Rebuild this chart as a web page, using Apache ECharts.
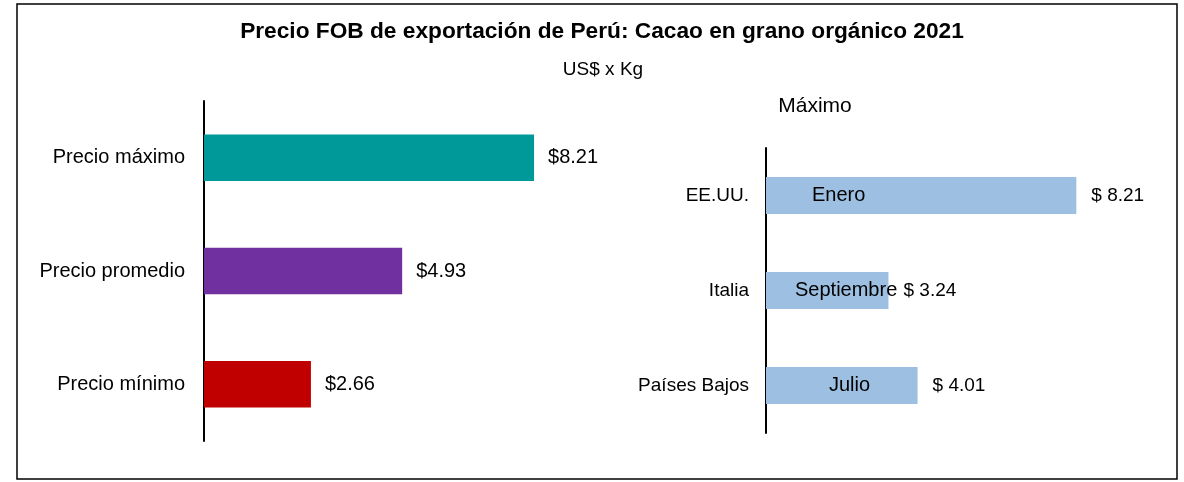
<!DOCTYPE html>
<html>
<head>
<meta charset="utf-8">
<script src="https://cdn.jsdelivr.net/npm/echarts@6/dist/echarts.min.js"></script>
<style>
  html, body { margin: 0; padding: 0; background: #fff; }
  #chart { width: 1184px; height: 482px; }
</style>
</head>
<body>
<div id="chart"></div>
<script>
// datos
var priceCategories = ['Precio máximo', 'Precio promedio', 'Precio mínimo'];
var priceValues = [8.21, 4.93, 2.66];
var priceColors = ['#009999', '#7030A0', '#C00000'];

var countryCategories = ['EE.UU.', 'Italia', 'Países Bajos'];
var countryValues = [8.21, 3.24, 4.01];
var countryMonths = ['Enero', 'Septiembre', 'Julio'];

var fontName = 'Liberation Sans';

// posicion del mes dentro de la barra (px desde el eje)
var monthOffsets = [46, 29, 63];

var chart = echarts.init(document.getElementById('chart'));

var option = {
    backgroundColor: '#fff',
    animation: false,
    textStyle: { fontFamily: fontName },
    title: [
        {
            text: 'Precio FOB de exportación de Perú: Cacao en grano orgánico 2021',
            left: 597, top: 15, textAlign: 'center',
            textStyle: { fontSize: 22.7, fontWeight: 'bold', color: '#000', fontFamily: fontName }
        },
        {
            text: 'US$ x Kg',
            left: 598, top: 55, textAlign: 'center',
            textStyle: { fontSize: 19, fontWeight: 'normal', color: '#000', fontFamily: fontName }
        },
        {
            text: 'Máximo',
            left: 810, top: 91, textAlign: 'center',
            textStyle: { fontSize: 21, fontWeight: 'normal', color: '#000', fontFamily: fontName }
        }
    ],
    graphic: [{
        type: 'rect',
        shape: { x: 17, y: 4, width: 1160, height: 475 },
        style: { fill: 'none', stroke: '#000', lineWidth: 1.5 }
    }],
    grid: [
        { left: 204, top: 101, width: 402, height: 340 },
        { left: 766, top: 148, width: 378, height: 285 }
    ],
    xAxis: [
        { gridIndex: 0, type: 'value', min: 0, max: 10, show: false },
        { gridIndex: 1, type: 'value', min: 0, max: 10, show: false }
    ],
    yAxis: [
        {
            gridIndex: 0, type: 'category', data: priceCategories, inverse: true,
            axisLine: { lineStyle: { color: '#000', width: 2 } },
            axisTick: { show: false },
            axisLabel: { color: '#000', fontSize: 20, margin: 19 }
        },
        {
            gridIndex: 1, type: 'category', data: countryCategories, inverse: true,
            axisLine: { lineStyle: { color: '#000', width: 2 } },
            axisTick: { show: false },
            axisLabel: { color: '#000', fontSize: 19, margin: 17 }
        }
    ],
    series: [
        {
            type: 'bar', xAxisIndex: 0, yAxisIndex: 0,
            barWidth: '41%',
            data: priceValues.map(function (v, i) {
                return { value: v, itemStyle: { color: priceColors[i] } };
            }),
            label: {
                show: true, position: 'right', distance: 14,
                color: '#000', fontSize: 20,
                formatter: function (p) { return '$' + p.value.toFixed(2); }
            }
        },
        {
            type: 'bar', xAxisIndex: 1, yAxisIndex: 1,
            barWidth: '39%',
            itemStyle: { color: '#9DC0E2' },
            data: countryValues,
            label: {
                show: true, position: 'right', distance: 15,
                color: '#000', fontSize: 19,
                formatter: function (p) { return '$ ' + p.value.toFixed(2); }
            }
        },
        {
            // capa para el nombre del mes dentro de la barra
            type: 'bar', xAxisIndex: 1, yAxisIndex: 1,
            barWidth: '39%', barGap: '-100%',
            itemStyle: { color: 'rgba(0,0,0,0)' },
            silent: true,
            data: countryValues.map(function (v, i) {
                return {
                    value: v,
                    label: {
                        show: true,
                        position: [monthOffsets[i], '50%'],
                        align: 'left', verticalAlign: 'middle',
                        color: '#000', fontSize: 20,
                        formatter: countryMonths[i]
                    }
                };
            })
        }
    ]
};

chart.setOption(option);
window.onresize = function () { chart.resize(); };
</script>
</body>
</html>
